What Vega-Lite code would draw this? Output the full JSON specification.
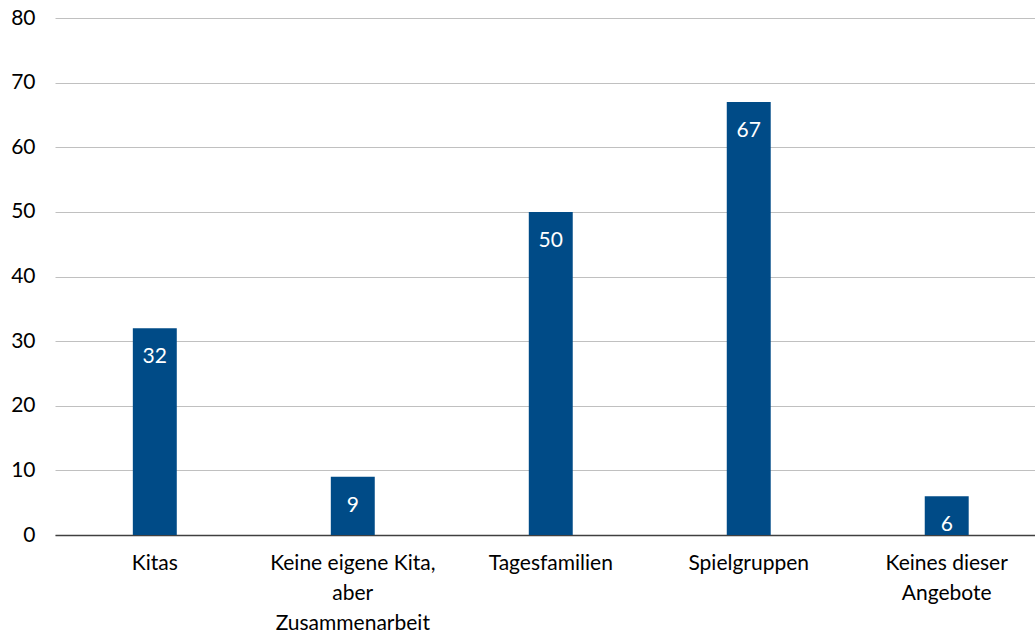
{
  "$schema": "https://vega.github.io/schema/vega-lite/v6.json",
  "width": 980,
  "height": 517,
  "autosize": {"type": "none"},
  "padding": {"left": 55, "top": 18, "right": 0, "bottom": 102},
  "background": "white",
  "config": {"view": {"stroke": null}, "font": "Lato"},
  "data": {"values": [
    {"kategorie": "Kitas", "wert": 32},
    {"kategorie": "Keine eigene Kita,|aber|Zusammenarbeit", "wert": 9},
    {"kategorie": "Tagesfamilien", "wert": 50},
    {"kategorie": "Spielgruppen", "wert": 67},
    {"kategorie": "Keines dieser|Angebote", "wert": 6}
  ]},
  "encoding": {
    "x": {"field": "kategorie", "type": "nominal", "sort": null,
      "scale": {"paddingInner": 0.778, "paddingOuter": 0.364, "align": 0.54},
      "axis": {"title": null, "labelAngle": 0, "labelExpr": "split(datum.label, '|')",
        "labelFontSize": 21, "labelColor": "#000000", "labelLineHeight": 30, "labelPadding": 17,
        "ticks": false, "domainColor": "#404040", "domainWidth": 1.5, "labelFont": "Lato"}},
    "y": {"field": "wert", "type": "quantitative",
      "scale": {"domain": [0, 80]},
      "axis": {"title": null, "values": [0,10,20,30,40,50,60,70,80], "labelFontSize": 21, "labelColor": "#000000",
        "labelPadding": 20, "ticks": false, "domain": false, "gridColor": "#c0c0c0", "gridWidth": 1, "labelFont": "Lato"}}
  },
  "layer": [
    {"mark": {"type": "bar", "color": "#004b87"}},
    {"mark": {"type": "text", "color": "white", "fontSize": 21, "baseline": "middle", "dy": 29, "font": "Lato"},
     "encoding": {"text": {"field": "wert", "type": "quantitative"}}}
  ]
}
